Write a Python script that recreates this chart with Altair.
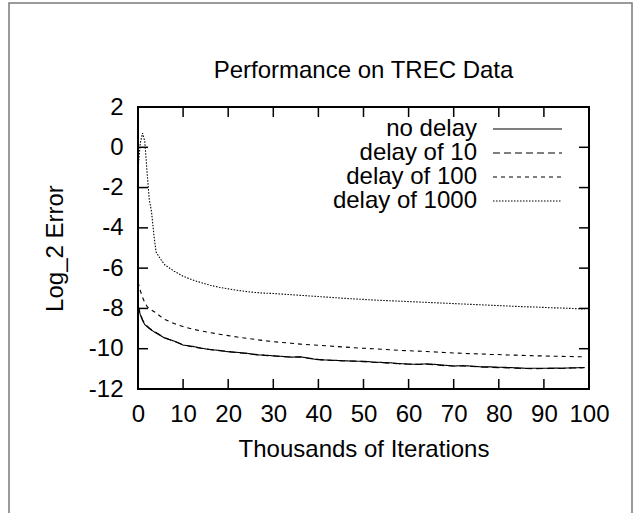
import altair as alt
import pandas as pd

# ---------------- data ----------------
x_k = [0, 0.5, 1, 1.5, 2, 2.5, 3, 3.5, 4, 5,
       6, 8, 10, 12, 14, 16, 18, 20, 22, 24, 26, 28, 30, 32, 34, 36, 38, 40,
       42, 44, 46, 48, 50, 52, 54, 56, 58, 60, 62, 64, 66, 68, 70, 72, 74,
       76, 78, 80, 82, 84, 86, 88, 90, 92, 94, 96, 98, 99]

no_delay = [-7.9, -8.3, -8.6, -8.8, -8.9, -9.0, -9.08, -9.15, -9.22, -9.35,
            -9.48, -9.62, -9.82, -9.88, -9.97, -10.05, -10.08, -10.15, -10.18, -10.22,
            -10.3, -10.32, -10.35, -10.38, -10.42, -10.4, -10.48, -10.55, -10.56, -10.58,
            -10.6, -10.62, -10.62, -10.66, -10.68, -10.7, -10.74, -10.76, -10.78, -10.75,
            -10.78, -10.82, -10.86, -10.84, -10.86, -10.9, -10.9, -10.92, -10.93, -10.95,
            -10.97, -10.97, -10.97, -10.96, -10.97, -10.95, -10.94, -10.93]

delay_10 = [-7.85, -8.25, -8.55, -8.75, -8.87, -8.97, -9.05, -9.12, -9.19, -9.33,
            -9.46, -9.63, -9.8, -9.9, -9.98, -10.04, -10.1, -10.14, -10.2, -10.24,
            -10.28, -10.33, -10.36, -10.4, -10.41, -10.42, -10.47, -10.53, -10.57, -10.59,
            -10.61, -10.61, -10.64, -10.67, -10.69, -10.72, -10.75, -10.77, -10.77, -10.77,
            -10.8, -10.84, -10.86, -10.86, -10.88, -10.91, -10.92, -10.94, -10.95, -10.97,
            -10.98, -10.99, -10.98, -10.98, -10.97, -10.96, -10.95, -10.94]

delay_100 = [-6.7, -7.1, -7.45, -7.7, -7.9, -8.0, -8.08, -8.15, -8.22, -8.4,
             -8.55, -8.75, -8.9, -9.02, -9.12, -9.2, -9.28, -9.35, -9.42, -9.48,
             -9.54, -9.6, -9.65, -9.69, -9.73, -9.77, -9.8, -9.83, -9.86, -9.89,
             -9.92, -9.95, -9.98, -10.0, -10.03, -10.05, -10.08, -10.1, -10.12, -10.14,
             -10.16, -10.19, -10.21, -10.23, -10.25, -10.26, -10.28, -10.29, -10.31, -10.32,
             -10.34, -10.35, -10.36, -10.37, -10.38, -10.39, -10.4, -10.4]

delay_1000 = [-1.1, 0.2, 0.7, 0.3, -1.2, -2.6, -3.2, -4.3, -5.2, -5.55,
              -5.85, -6.15, -6.4, -6.58, -6.72, -6.85, -6.95, -7.03, -7.1, -7.16,
              -7.21, -7.24, -7.26, -7.29, -7.32, -7.35, -7.38, -7.41, -7.44, -7.47,
              -7.5, -7.53, -7.55, -7.58, -7.6, -7.62, -7.64, -7.66, -7.68, -7.7,
              -7.72, -7.74, -7.76, -7.78, -7.8, -7.82, -7.84, -7.86, -7.88, -7.9,
              -7.92, -7.93, -7.95, -7.97, -7.98, -8.0, -8.02, -8.04]

series_names = ["no delay", "delay of 10", "delay of 100", "delay of 1000"]
x_ticks = [0, 10, 20, 30, 40, 50, 60, 70, 80, 90, 100]
y_ticks = [-12, -10, -8, -6, -4, -2, 0, 2]
chart_title = "Performance on TREC Data"

# ---------------- tables ----------------
series_values = [no_delay, delay_10, delay_100, delay_1000]
rows = []
for name, vals in zip(series_names, series_values):
    for xv, yv in zip(x_k, vals):
        rows.append({"x": xv, "y": yv, "series": name})
df = pd.DataFrame(rows)
leg_df = pd.DataFrame({"series": series_names})
xt_df = pd.DataFrame({"t": x_ticks})
yt_df = pd.DataFrame({"t": y_ticks})
one_row = pd.DataFrame({"label": [chart_title]})

# ---------------- styling ----------------
FONT = "Liberation Sans"
FS = 24
W, H = 451, 282
TICK = 10

xscale = alt.Scale(domain=[0, 100], nice=False, zero=False)
yscale = alt.Scale(domain=[-12, 2], nice=False, zero=False)
dash_scale = alt.Scale(domain=series_names,
                       range=[[1, 0], [7, 4], [4, 4], [1.5, 1.5]])

xaxis = alt.Axis(values=x_ticks, title="Thousands of Iterations",
                 labelExpr="'' + datum.value", labelPadding=13,
                 labelOverlap=False, labelFlush=False,
                 titleY=60, titleBaseline="middle")
yaxis = alt.Axis(values=y_ticks, title="Log_2 Error",
                 labelExpr="'' + datum.value", labelPadding=15,
                 labelOverlap=False, labelFlush=False,
                 titleX=-83, titleY=H / 2, titleBaseline="middle",
                 titleAlign="center", titleAngle=270)

lines = alt.Chart(df).mark_line(color="black", strokeWidth=1.1, clip=True).encode(
    x=alt.X("x:Q", scale=xscale, axis=xaxis),
    y=alt.Y("y:Q", scale=yscale, axis=yaxis),
    strokeDash=alt.StrokeDash("series:N", scale=dash_scale, legend=None),
    detail="series:N",
)

tick_style = dict(color="black", strokeWidth=1.5)
bottom_ticks = alt.Chart(xt_df).mark_rule(**tick_style).encode(
    x=alt.X("t:Q", scale=xscale, axis=xaxis), y=alt.value(H), y2=alt.value(H - TICK))
top_ticks = alt.Chart(xt_df).mark_rule(**tick_style).encode(
    x=alt.X("t:Q", scale=xscale, axis=xaxis), y=alt.value(0), y2=alt.value(TICK))
left_ticks = alt.Chart(yt_df).mark_rule(**tick_style).encode(
    y=alt.Y("t:Q", scale=yscale, axis=yaxis), x=alt.value(0), x2=alt.value(TICK))
right_ticks = alt.Chart(yt_df).mark_rule(**tick_style).encode(
    y=alt.Y("t:Q", scale=yscale, axis=yaxis), x=alt.value(W), x2=alt.value(W - TICK))

main = alt.layer(lines, bottom_ticks, top_ticks, left_ticks, right_ticks)

leg_y = alt.Y("series:N", scale=alt.Scale(type="point", domain=series_names,
                                          range=[22, 94], padding=0), axis=None)
leg_text = alt.Chart(leg_df).mark_text(
    align="right", baseline="middle", font=FONT, fontSize=FS, color="black"
).encode(text="series:N", x=alt.value(339), y=leg_y)
leg_lines = alt.Chart(leg_df).mark_rule(color="black", strokeWidth=1.1).encode(
    x=alt.value(355), x2=alt.value(424), y=leg_y,
    strokeDash=alt.StrokeDash("series:N", scale=dash_scale, legend=None))
legend = alt.layer(leg_text, leg_lines)

frame = alt.Chart(pd.DataFrame({"a": [0]})).mark_rect(
    fillOpacity=0, stroke="#7a7a7a", strokeWidth=1.5
).encode(x=alt.value(-129), x2=alt.value(494), y=alt.value(-104), y2=alt.value(420))

title_text = alt.Chart(one_row).mark_text(
    align="center", baseline="alphabetic", font=FONT, fontSize=FS, color="black"
).encode(text="label:N", x=alt.value(W / 2), y=alt.value(-29))

chart = alt.layer(frame, title_text, main, legend).resolve_scale(y="independent").properties(
    width=W, height=H,
    background="white",
    autosize=alt.AutoSizeParams(type="none"),
    padding={"left": 138, "top": 107, "right": 635 - 138 - W, "bottom": 513 - 107 - H},
).configure_view(
    stroke="black", strokeWidth=2
).configure_axis(
    domain=False, ticks=False, tickSize=0, grid=False,
    labelFont=FONT, labelFontSize=FS, labelColor="black",
    titleFont=FONT, titleFontSize=FS, titleFontWeight="normal", titleColor="black",
)

chart.save("out.html", embed_options={"renderer": "svg", "actions": False})
